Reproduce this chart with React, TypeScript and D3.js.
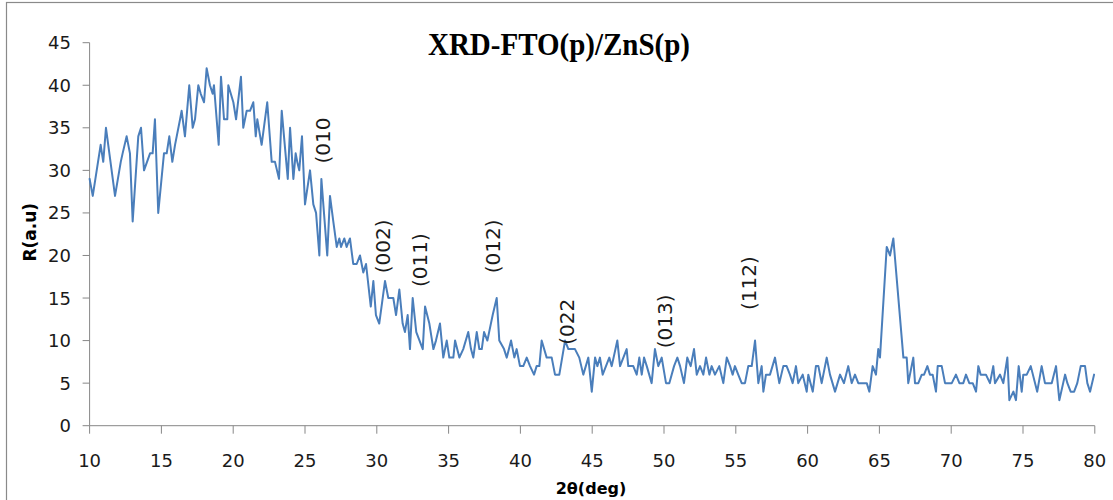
import React from "react";
import * as d3 from "d3";

// 2θ (deg) positions and intensity
const twoTheta: number[] = [
  10.0, 10.22, 10.77, 10.95, 11.14, 11.77, 12.17, 12.3, 12.58, 12.81, 13.0, 13.39, 13.58, 13.79, 14.21, 14.39,
  14.55, 14.78, 15.18, 15.37, 15.55, 15.76, 15.95, 16.3, 16.41, 16.64, 16.94, 17.18, 17.34, 17.57, 17.74, 17.97,
  18.15, 18.38, 18.57, 18.66, 18.99, 19.15, 19.36, 19.59, 19.66, 20.01, 20.2, 20.54, 20.7, 20.94, 21.17, 21.4,
  21.57, 21.68, 21.98, 22.37, 22.68, 22.91, 23.19, 23.38, 23.8, 23.96, 24.19, 24.35, 24.46, 24.6, 24.79, 25.0,
  25.35, 25.58, 25.77, 26.0, 26.14, 26.55, 26.74, 26.97, 27.21, 27.39, 27.51, 27.74, 27.9, 28.13, 28.36, 28.6,
  28.83, 29.06, 29.25, 29.58, 29.76, 29.94, 30.17, 30.57, 30.8, 31.15, 31.34, 31.57, 31.8, 31.96, 32.15, 32.31,
  32.5, 32.75, 33.2, 33.36, 33.66, 33.94, 34.12, 34.4, 34.63, 34.87, 35.05, 35.33, 35.45, 35.75, 36.02, 36.37,
  36.56, 36.72, 36.96, 37.14, 37.31, 37.47, 37.7, 38.07, 38.35, 38.53, 38.86, 39.05, 39.35, 39.58, 39.74, 39.97,
  40.2, 40.44, 40.67, 40.95, 41.13, 41.32, 41.48, 41.83, 42.18, 42.41, 42.71, 43.11, 43.34, 43.8, 44.1, 44.38,
  44.73, 44.97, 45.2, 45.36, 45.54, 45.73, 45.96, 46.19, 46.36, 46.75, 46.94, 47.17, 47.4, 47.51, 47.86, 48.1,
  48.28, 48.45, 48.61, 48.8, 49.14, 49.37, 49.6, 49.84, 50.14, 50.37, 50.7, 50.93, 51.12, 51.39, 51.62, 51.86,
  52.09, 52.28, 52.51, 52.74, 52.93, 53.16, 53.32, 53.55, 53.85, 54.13, 54.37, 54.6, 54.78, 54.94, 55.17, 55.41,
  55.64, 55.87, 56.11, 56.34, 56.57, 56.8, 56.92, 57.1, 57.38, 57.73, 58.03, 58.31, 58.54, 58.77, 58.96, 59.19,
  59.35, 59.66, 59.94, 60.05, 60.36, 60.58, 60.75, 60.98, 61.33, 61.56, 61.91, 62.26, 62.53, 62.83, 63.07, 63.3,
  63.53, 63.88, 64.12, 64.3, 64.53, 64.76, 64.92, 65.04, 65.51, 65.74, 65.97, 66.67, 66.9, 67.01, 67.36, 67.48,
  67.71, 67.95, 68.11, 68.34, 68.52, 68.71, 68.94, 69.06, 69.34, 69.57, 70.04, 70.33, 70.57, 70.84, 71.03, 71.26,
  71.5, 71.73, 71.89, 72.05, 72.42, 72.7, 72.93, 73.05, 73.4, 73.63, 73.91, 74.05, 74.33, 74.51, 74.7, 74.91,
  75.02, 75.26, 75.54, 75.99, 76.3, 76.53, 77.0, 77.3, 77.53, 77.93, 78.09, 78.32, 78.56, 78.78, 79.02, 79.32,
  79.48, 79.67, 79.95,
];

const intensity: number[] = [
  29, 27, 33, 31, 35, 27, 31, 32, 34, 32, 24, 34, 35, 30, 32, 32,
  36, 25, 32, 32, 34, 31, 33, 36, 37, 34, 40, 35, 36, 40, 39, 38,
  42, 40, 39, 40, 33, 41, 36, 36, 40, 38, 36, 41, 35, 37, 37, 38,
  34, 36, 33, 38, 31, 31, 29, 37, 29, 35, 29, 32, 31, 30, 34, 26,
  30, 26, 25, 20, 29, 20, 27, 24, 21, 22, 21, 22, 21, 22, 19, 19,
  20, 18, 19, 14, 17, 13, 12, 17, 15, 15, 13, 16, 12, 11, 13, 9,
  15, 11, 9, 14, 12, 9, 10, 12, 8, 10, 8, 8, 10, 8, 9, 11,
  9, 8, 11, 9, 9, 11, 10, 13, 15, 10, 9, 8, 10, 8, 9, 7,
  7, 8, 7, 6, 7, 7, 10, 8, 8, 6, 6, 10, 9, 9, 8, 6,
  8, 4, 8, 7, 8, 6, 7, 8, 7, 10, 7, 8, 9, 7, 7, 6,
  8, 6, 8, 7, 5, 9, 7, 8, 5, 5, 7, 8, 7, 5, 8, 7,
  9, 6, 7, 6, 8, 6, 7, 6, 7, 5, 8, 7, 6, 7, 6, 5,
  5, 7, 7, 10, 5, 7, 4, 6, 6, 8, 5, 7, 7, 6, 5, 7,
  5, 6, 4, 6, 4, 7, 7, 5, 8, 6, 4, 6, 5, 7, 5, 6,
  5, 5, 5, 4, 7, 6, 9, 8, 21, 20, 22, 8, 8, 5, 8, 5,
  5, 6, 6, 7, 6, 6, 4, 7, 7, 5, 5, 6, 5, 5, 6, 5,
  5, 4, 7, 6, 6, 5, 7, 5, 6, 5, 8, 3, 4, 3, 7, 4,
  6, 6, 7, 4, 7, 5, 5, 7, 3, 6, 5, 4, 4, 5, 7, 7,
  5, 4, 6,
];

const xTicks: number[] = [10, 15, 20, 25, 30, 35, 40, 45, 50, 55, 60, 65, 70, 75, 80];
const yTicks: number[] = [0, 5, 10, 15, 20, 25, 30, 35, 40, 45];

// Peak annotations (label, 2θ, intensity where the label starts)
const peakLabels: string[] = ["(010", "(002)", "(011)", "(012)", "(022", "(013)", "(112)"];
const peakX: number[] = [26.25, 30.43, 33.0, 38.1, 43.2, 50.07, 55.9];
const peakY: number[] = [30.8, 17.9, 16.3, 17.9, 9.5, 9.1, 13.6];

const chartTitle = "XRD-FTO(p)/ZnS(p)";
const xTitle = "2θ(deg)";
const yTitle = "R(a.u)";

export default function App() {
  const W = 1113;
  const H = 500;
  const left = 89.6;
  const right = 1094.8;
  const top = 42.7;
  const bottom = 425.7;

  const x = d3.scaleLinear().domain([10, 80]).range([left, right]);
  const y = d3.scaleLinear().domain([0, 45]).range([bottom, top]);

  const points: [number, number][] = twoTheta.map((t, i) => [t, intensity[i]]);
  const line = d3
    .line<[number, number]>()
    .x((d) => x(d[0]))
    .y((d) => y(d[1]));

  const axisColor = "#878787";
  const tickFont = "'DejaVu Sans', sans-serif";

  return (
    <svg
      width={W}
      height={H}
      style={{ position: "absolute", left: 0, top: 0, background: "#fff" }}
    >
      <rect x={0} y={0} width={W} height={H} fill="#fff" />
      {/* chart frame (right/bottom edges cropped) */}
      <rect x={6.5} y={2.5} width={1300} height={700} fill="none" stroke="#8a8a8a" strokeWidth={1.2} />

      {/* title */}
      <text
        x={559}
        y={55}
        textAnchor="middle"
        fontFamily="'Liberation Serif', 'Times New Roman', serif"
        fontWeight="bold"
        fontSize={32}
        textLength={262}
        lengthAdjust="spacingAndGlyphs"
        fill="#000"
      >
        {chartTitle}
      </text>

      {/* y axis */}
      <line x1={left} x2={left} y1={top} y2={bottom} stroke={axisColor} strokeWidth={1} />
      {yTicks.map((t) => (
        <g key={"y" + t}>
          <line x1={left - 7} x2={left} y1={y(t)} y2={y(t)} stroke={axisColor} strokeWidth={1} />
          <text
            x={71}
            y={y(t)}
            dy="0.36em"
            textAnchor="end"
            fontFamily={tickFont}
            fontSize={18}
            fill="#1a1a1a"
          >
            {t}
          </text>
        </g>
      ))}

      {/* x axis */}
      <line x1={left} x2={right} y1={bottom} y2={bottom} stroke={axisColor} strokeWidth={1} />
      {xTicks.map((t) => (
        <g key={"x" + t}>
          <line x1={x(t)} x2={x(t)} y1={bottom} y2={bottom + 8} stroke={axisColor} strokeWidth={1} />
          <text
            x={x(t)}
            y={466.5}
            textAnchor="middle"
            fontFamily={tickFont}
            fontSize={18}
            fill="#1a1a1a"
          >
            {t}
          </text>
        </g>
      ))}

      {/* axis titles */}
      <text
        x={591}
        y={494}
        textAnchor="middle"
        fontFamily={tickFont}
        fontWeight="bold"
        fontSize={16}
        fill="#000"
      >
        {xTitle}
      </text>
      <text
        transform={`translate(36, ${(top + bottom) / 2 - 2}) rotate(-90)`}
        textAnchor="middle"
        fontFamily={tickFont}
        fontWeight="bold"
        fontSize={17}
        fill="#000"
      >
        {yTitle}
      </text>

      {/* data line */}
      <path
        d={line(points) || ""}
        fill="none"
        stroke="#4a7ebb"
        strokeWidth={2}
        strokeLinejoin="round"
        strokeLinecap="round"
      />

      {/* peak annotations */}
      {peakLabels.map((lbl, i) => (
        <text
          key={lbl + i}
          transform={`translate(${x(peakX[i])}, ${y(peakY[i])}) rotate(-90)`}
          dy="0.36em"
          textAnchor="start"
          fontFamily={tickFont}
          fontSize={20}
          fill="#1a1a1a"
        >
          {lbl}
        </text>
      ))}
    </svg>
  );
}
